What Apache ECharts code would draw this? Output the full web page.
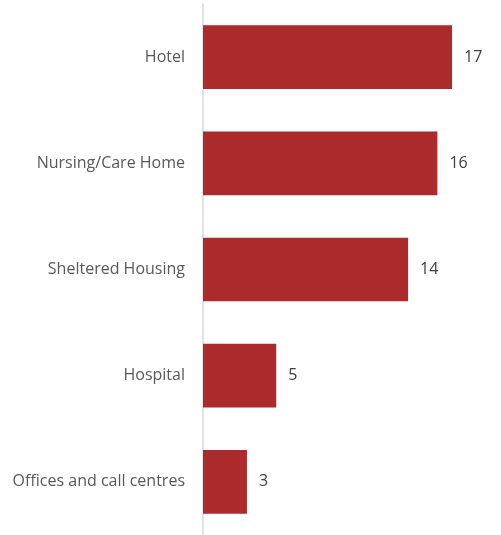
<!DOCTYPE html>
<html>
<head>
<meta charset="utf-8">
<script src="https://cdn.jsdelivr.net/npm/echarts@6/dist/echarts.min.js"></script>
<style>
  html, body { margin: 0; padding: 0; background: #fff; }
  #chart { width: 501px; height: 535px; }
</style>
</head>
<body>
<div id="chart"></div>
<script>
// categories listed top to bottom
const categories = ['Hotel', 'Nursing/Care Home', 'Sheltered Housing', 'Hospital', 'Offices and call centres'];
const counts = [17, 16, 14, 5, 3];

const chart = echarts.init(document.getElementById('chart'));

chart.setOption({
  animation: false,
  grid: { left: 203, top: 4, width: 293, height: 534 },
  xAxis: {
    type: 'value',
    min: 0,
    max: 20,
    show: false
  },
  yAxis: {
    type: 'category',
    inverse: true,
    data: categories,
    axisLine: { show: true, lineStyle: { color: '#d9d9d9', width: 1.5 } },
    axisTick: { show: false },
    axisLabel: {
      margin: 18,
      color: '#595959',
      fontSize: 16,
      fontFamily: 'Open Sans',
      padding: [7, 0, 0, 0]
    }
  },
  series: [{
    type: 'bar',
    data: counts,
    barCategoryGap: '40%',
    itemStyle: { color: '#AB2A2C' },
    label: {
      show: true,
      position: 'right',
      distance: 12,
      color: '#404040',
      fontSize: 16,
      fontFamily: 'Open Sans',
      padding: [7, 0, 0, 0]
    }
  }]
});
</script>
</body>
</html>
